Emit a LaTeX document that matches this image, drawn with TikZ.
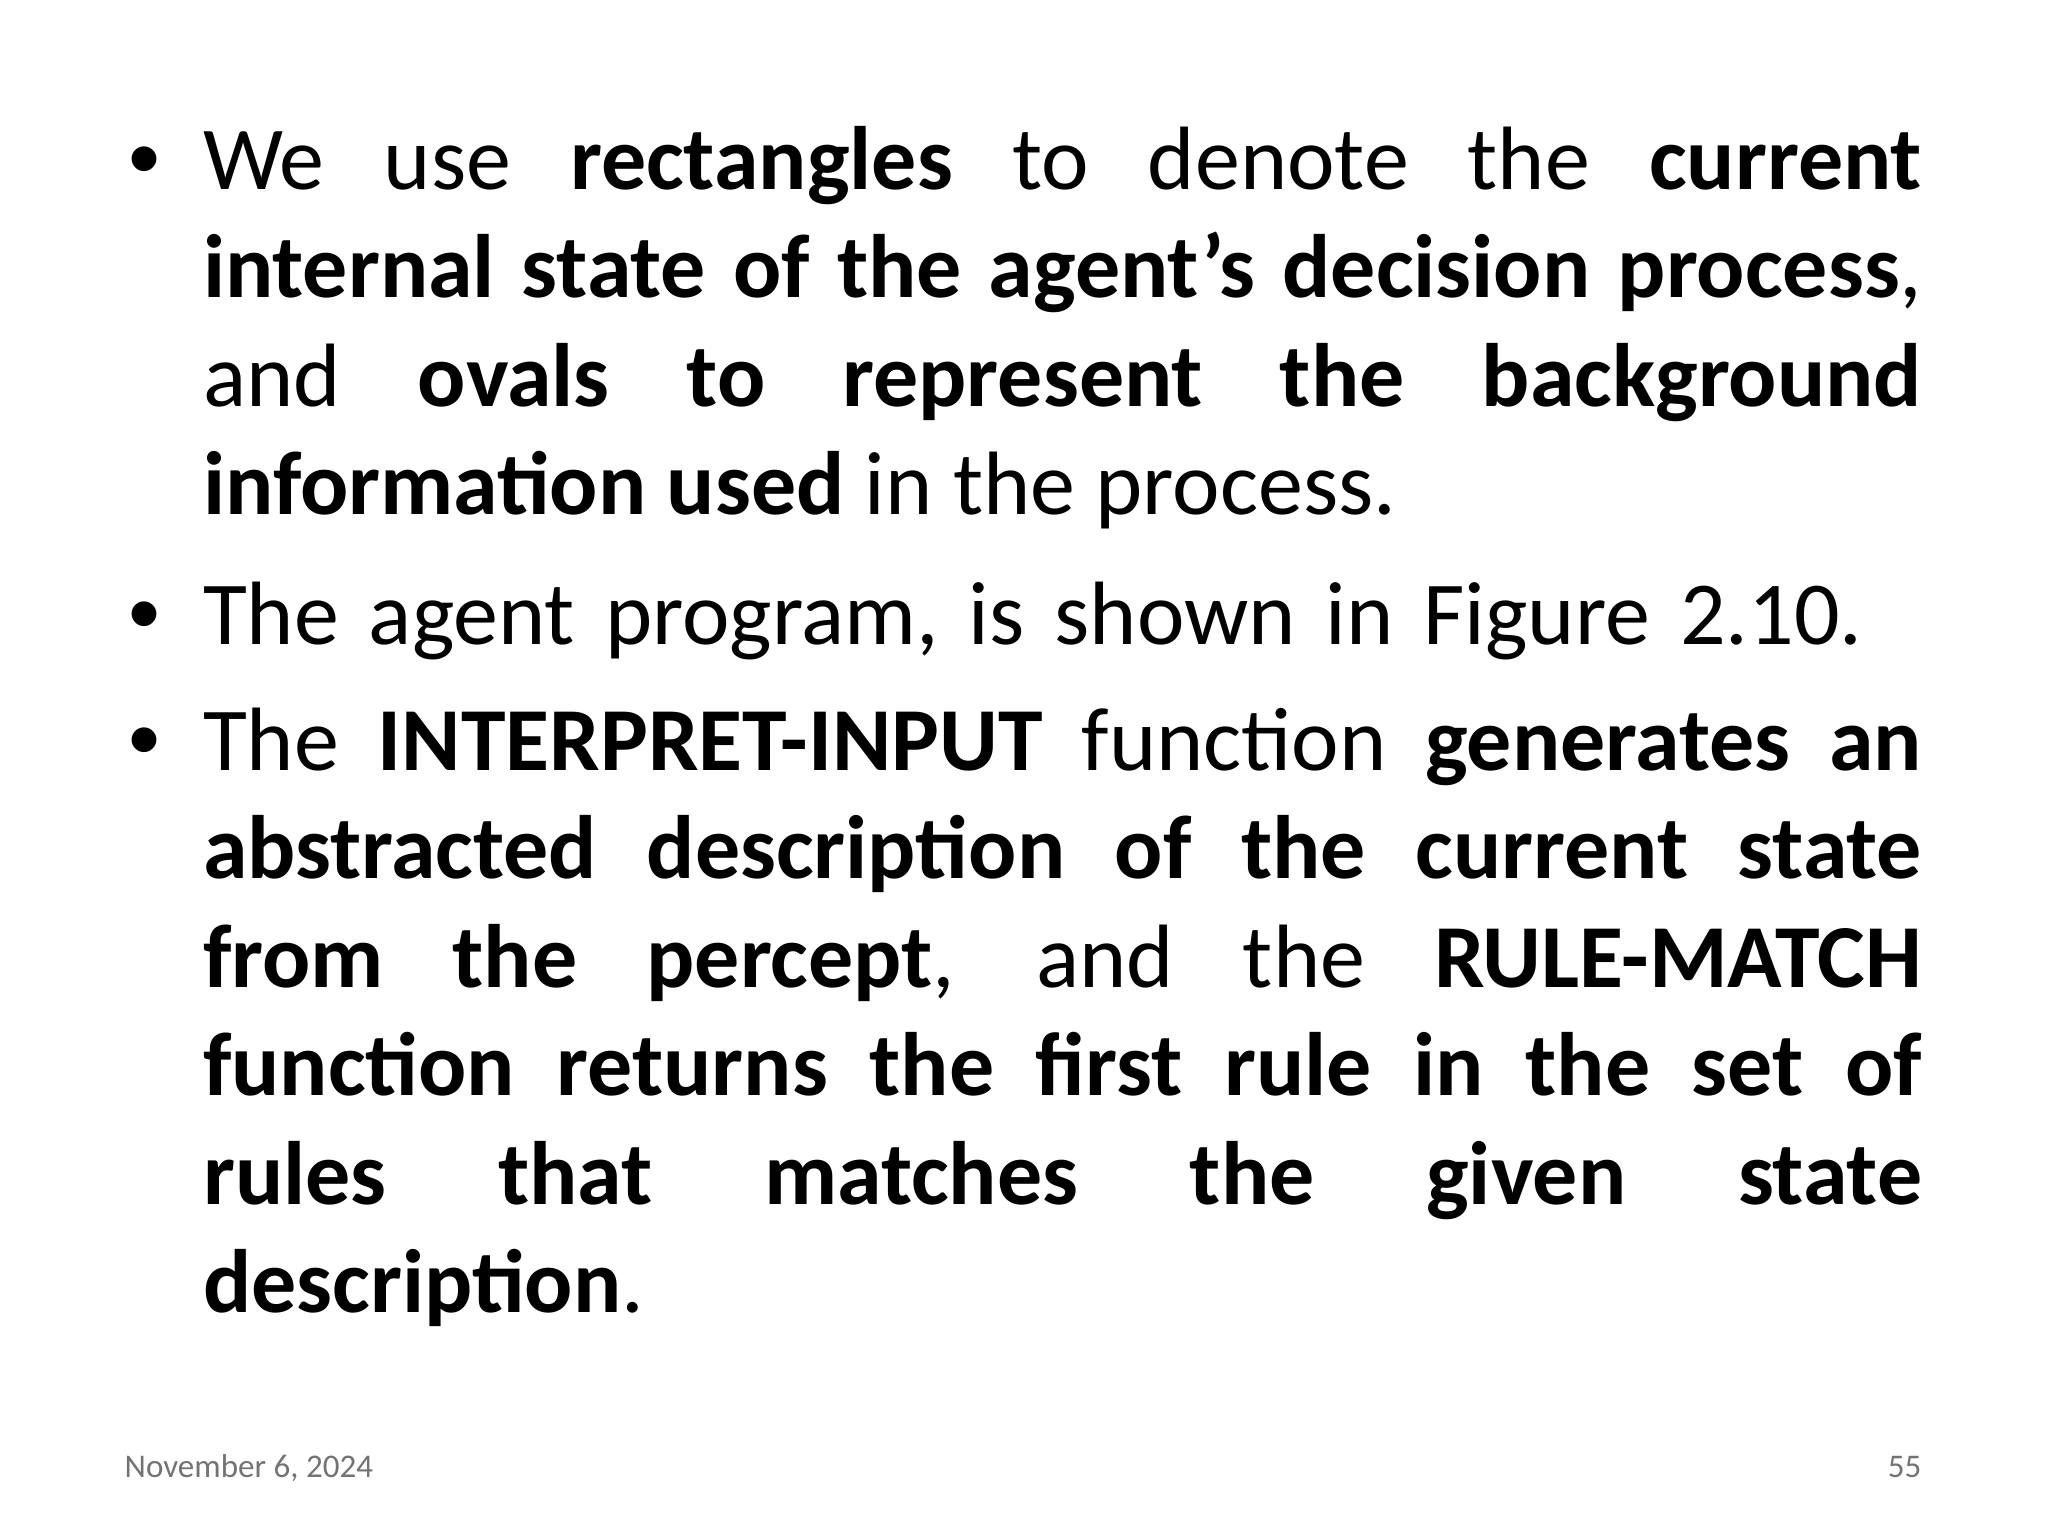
\documentclass[tikz,border=0pt]{standalone}
\usepackage{fontspec}
\setmainfont{Carlito}
\newfontfamily\bulfont{Liberation Sans}
\newcommand\myparsetup{\hyphenpenalty=10000\relax\exhyphenpenalty=10000\relax}
\begin{document}
\begin{tikzpicture}[
  para/.style={anchor=base west, inner sep=0pt, text width=17.19cm, align=justify, font=\fontsize{25.6}{30.84}\selectfont},
  bul/.style={anchor=base west, inner sep=0pt, font=\bulfont\fontsize{26}{30.84}\selectfont},
  foot/.style={inner sep=0pt, text=black!55, font=\fontsize{9.4}{11}\selectfont}]
\useasboundingbox (0,0) rectangle (20.48,-15.36);
\node[bul] (b1) at (1.28,-1.894) {•};
\node[para] (p1) at (2.024,-1.894) {\myparsetup We use \textbf{rectangles} to denote the \textbf{current}\linebreak \textbf{internal state of the agent’s decision process},\linebreak and \textbf{ovals to represent the background}\linebreak \textbf{information used} in the process.};
\node[bul] (b2) at (1.28,-6.44) {•};
\node[para, align=left] (p2) at (2.024,-6.44) {The agent program, is shown in Figure 2.10.};
\node[bul] (b3) at (1.28,-7.705) {•};
\node[para] (p3) at (2.024,-7.705) {\myparsetup The \textbf{INTERPRET-INPUT} function \textbf{generates an}\linebreak \textbf{abstracted description of the current state}\linebreak \textbf{from the percept}, and the \textbf{RULE-MATCH}\linebreak \textbf{function returns the first rule in the set of}\linebreak \textbf{rules that matches the given state}\linebreak \textbf{description}.};
\node[foot, anchor=base west] (date) at (1.24,-14.77) {November 6, 2024};
\node[foot, anchor=base east] (num) at (19.22,-14.77) {55};
\end{tikzpicture}
\end{document}
